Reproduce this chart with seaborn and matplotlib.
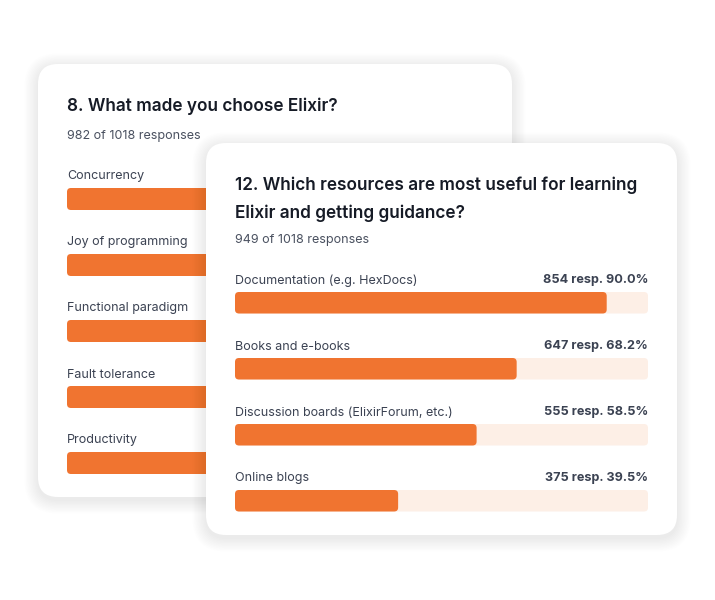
import matplotlib
matplotlib.use("Agg")
import matplotlib.pyplot as plt
from matplotlib.patches import FancyBboxPatch
from matplotlib.transforms import IdentityTransform
import seaborn as sns
import pandas as pd

# ---------------- data ----------------
back_title = "8. What made you choose Elixir?"
back_subtitle = "982 of 1018 responses"
back_categories = ["Concurrency", "Joy of programming", "Functional paradigm",
                   "Fault tolerance", "Productivity"]
back_pct = [80.0, 72.0, 70.0, 62.0, 55.0]

front_title_1 = "12. Which resources are most useful for learning"
front_title_2 = "Elixir and getting guidance?"
front_subtitle = "949 of 1018 responses"
front_categories = ["Documentation (e.g. HexDocs)", "Books and e-books",
                    "Discussion boards (ElixirForum, etc.)", "Online blogs"]
front_pct = [90.0, 68.2, 58.5, 39.5]
front_resp = [854, 647, 555, 375]

# ---------------- style ----------------
sns.set_theme(style="white")
plt.rcParams['font.family'] = ['Inter', 'DejaVu Sans']

W, H = 715, 600
ORANGE = "#F07430"
TRACK = "#FDEFE6"
TITLE_C = "#161b26"
SUB_C = "#4a5160"
LAB_C = "#3b4252"

fig = plt.figure(figsize=(W / 100, H / 100), dpi=100)
fig.patch.set_facecolor("white")


def px_axes(x0, y0, w, h, **kw):
    return fig.add_axes([x0 / W, 1 - (y0 + h) / H, w / W, h / H], **kw)


def canvas():
    a = px_axes(0, 0, W, H)
    a.set_xlim(0, W)
    a.set_ylim(H, 0)
    a.axis("off")
    a.patch.set_alpha(0)
    return a


def card(a, x0, y0, x1, y1):
    # soft shadow
    for k in range(10):
        pad = 1 + k * 1.4
        a.add_patch(FancyBboxPatch((x0, y0 + 3), x1 - x0, y1 - y0,
                                   boxstyle=f"round,pad={pad},rounding_size={20 + pad}",
                                   fc="black", ec="none", alpha=0.006))
    a.add_patch(FancyBboxPatch((x0, y0), x1 - x0, y1 - y0,
                               boxstyle="round,pad=0,rounding_size=20",
                               fc="white", ec="none"))


def chart(x0, y0, w, pitch, barh, cats, pct, resp=None):
    n = len(cats)
    hh = (n - 1) * pitch + barh
    ax = px_axes(x0, y0, w, hh)
    width = barh / pitch
    df = pd.DataFrame({"cat": cats, "pct": pct, "full": [100.0] * n})
    sns.barplot(data=df, y="cat", x="full", color=TRACK, width=width,
                saturation=1, ax=ax, orient="h")
    sns.barplot(data=df, y="cat", x="pct", color=ORANGE, width=width,
                saturation=1, ax=ax, orient="h")
    ax.set_xlim(0, 100)
    ax.set_ylim(n - 1 + width / 2, -width / 2)
    ax.axis("off")
    ax.patch.set_alpha(0)
    # rounded bars
    for p in list(ax.patches):
        bb = p.get_window_extent()
        fc = p.get_facecolor()
        p.set_visible(False)
        ax.add_patch(FancyBboxPatch((bb.x0, bb.y0), bb.width, bb.height,
                                    boxstyle="round,pad=0,rounding_size=4",
                                    fc=fc, ec="none", transform=IdentityTransform(),
                                    clip_on=False))
    for i, c in enumerate(cats):
        ax.annotate(c, xy=(0, i - width / 2), xytext=(0, 11.5),
                    textcoords="offset pixels", ha="left", va="center",
                    fontsize=9.0, color=LAB_C)
        if resp is not None:
            ax.annotate(f"{resp[i]} resp. {pct[i]:.1f}%", xy=(100, i - width / 2),
                        xytext=(0, 11.5), textcoords="offset pixels",
                        ha="right", va="center", fontsize=9.1, color=LAB_C,
                        fontweight="bold")
    return ax


# back card
bg1 = canvas()
card(bg1, 38, 64, 512, 497)
bg1.text(67, 106, back_title, fontsize=12.4, fontweight="semibold", color=TITLE_C,
         ha="left", va="center")
bg1.text(67, 136.5, back_subtitle, fontsize=9.05, color=SUB_C, ha="left", va="center")
chart(67, 188, 415, 66, 22, back_categories, back_pct)

# front card
bg2 = canvas()
card(bg2, 206, 143, 677, 535)
bg2.text(235, 185, front_title_1, fontsize=12.4, fontweight="semibold", color=TITLE_C,
         ha="left", va="center")
bg2.text(235, 213, front_title_2, fontsize=12.4, fontweight="semibold", color=TITLE_C,
         ha="left", va="center")
bg2.text(235, 240.5, front_subtitle, fontsize=9.05, color=SUB_C, ha="left", va="center")
chart(235, 292, 413, 66, 21.5, front_categories, front_pct, front_resp)

fig.savefig("out.png", dpi=100, facecolor="white")
